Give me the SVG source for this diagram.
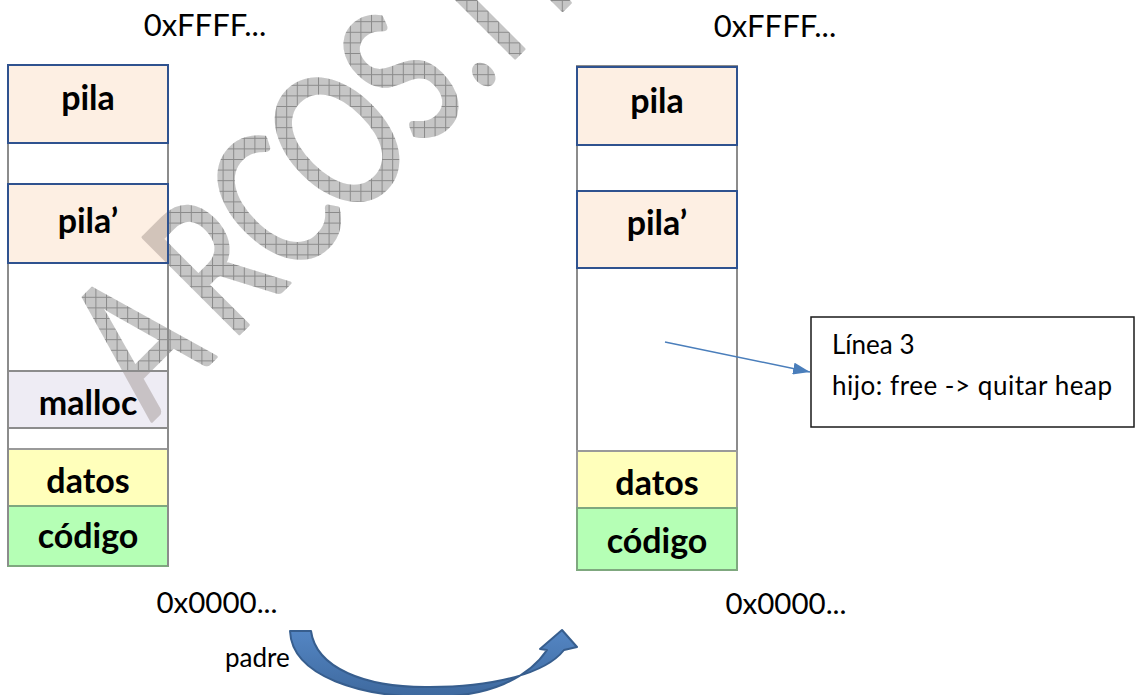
<svg xmlns="http://www.w3.org/2000/svg" width="1136" height="695" viewBox="0 0 1136 695">
  <style>
    .addr { font-family: Lato, "Liberation Sans", sans-serif; font-size: 31px; fill: #000; text-anchor: middle; }
    .seg-label { font-family: Lato, "Liberation Sans", sans-serif; font-weight: bold; font-size: 34px; fill: #000; text-anchor: middle; }
    .note { font-family: Lato, "Liberation Sans", sans-serif; font-size: 26px; fill: #000; }
    .col { fill: #fff; stroke: #8c8c8c; stroke-width: 2; }
    .stack { fill: #fdefe3; stroke: #2f528f; stroke-width: 2; }
    .heap { fill: #eeecf4; stroke: #8c8c8c; stroke-width: 2; }
    .data { fill: #ffffbb; stroke: #9a9a9a; stroke-width: 2; }
    .code { fill: #b5ffb5; stroke: #7fa87f; stroke-width: 2; }
    .callout { fill: #fff; stroke: #1a1a1a; stroke-width: 1.5; }
    .pointer { fill: none; stroke: #4a7ebb; stroke-width: 1.5; }
    .wm-text { font-family: Lato, "Liberation Sans", sans-serif; font-size: 190px; fill: #fff; stroke: #fff; stroke-width: 3; stroke-linejoin: round; text-anchor: middle; }
  </style>
  <defs>
    <pattern id="grid" width="10.6" height="10.6" patternUnits="userSpaceOnUse">
      <rect width="10.6" height="10.6" fill="#c6c6c6"/>
      <path d="M0 0.5H10.6M0.5 0V10.6" stroke="#8a8a8a" stroke-width="1"/>
    </pattern>
    <mask id="wm-mask" maskUnits="userSpaceOnUse" x="0" y="0" width="1136" height="695">
      <g transform="translate(180,393) rotate(-45) scale(0.72,1)">
        <text class="wm-text" x="8 158 278 403 528 611 667 806" y="0">ARCOS.IN</text>
      </g>
    </mask>
    <clipPath id="in-boxes">
      <rect x="8" y="184" width="160" height="79"/>
      <rect x="8" y="371" width="160" height="57"/>
    </clipPath>
    <marker id="arrow" markerWidth="18" markerHeight="12" refX="17" refY="6" orient="auto" markerUnits="userSpaceOnUse">
      <path d="M0,0 L17,6 L0,12 Z" fill="#4a7ebb"/>
    </marker>
    <linearGradient id="band" x1="0" y1="0" x2="0" y2="1">
      <stop offset="0" stop-color="#5486c4"/>
      <stop offset="1" stop-color="#3e699e"/>
    </linearGradient>
  </defs>

  <!-- background watermark -->
  <rect width="1136" height="695" fill="#fff"/>
  <rect id="watermark" width="1136" height="695" fill="url(#grid)" mask="url(#wm-mask)"/>

  <!-- parent process memory map -->
  <g id="parent-map">
    <g id="p-pila"><rect class="stack" x="8" y="65" width="160" height="78"/><text class="seg-label" x="88" y="110">pila</text></g>
    <g id="p-pila2"><rect class="stack" x="8" y="184" width="160" height="79"/><text class="seg-label" x="88" y="233">pila’</text></g>
    <g id="p-malloc"><rect class="heap" x="8" y="371" width="160" height="57"/><text class="seg-label" x="88" y="415">malloc</text></g>
    <g id="p-datos"><rect class="data" x="8" y="449" width="160" height="57"/><text class="seg-label" x="88" y="493">datos</text></g>
    <g id="p-codigo"><rect class="code" x="8" y="506" width="160" height="60"/><text class="seg-label" x="88" y="548">código</text></g>
  </g>
  <!-- watermark seen through the tinted boxes -->
  <g clip-path="url(#in-boxes)">
    <rect width="1136" height="695" fill="#7a6a62" fill-opacity="0.32" mask="url(#wm-mask)"/>
  </g>
  <!-- column edges and box outlines over the watermark -->
  <g fill="none" stroke="#8c8c8c" stroke-width="2">
    <path d="M8 143V566M168 143V566"/>
    <rect x="8" y="371" width="160" height="57"/>
  </g>
  <g fill="none" stroke="#2f528f" stroke-width="2">
    <rect x="8" y="65" width="160" height="78"/>
    <rect x="8" y="184" width="160" height="79"/>
  </g>

  <text class="addr" x="205" y="36">0xFFFF...</text>
  <text class="addr" x="217" y="613" style="font-size:29.5px">0x0000...</text>

  <!-- child process memory map -->
  <g id="child-map">
    <rect class="col" x="577" y="66" width="160" height="504"/>
    <g id="c-pila"><rect class="stack" x="577" y="67" width="160" height="78"/><text class="seg-label" x="657" y="113">pila</text></g>
    <g id="c-pila2"><rect class="stack" x="577" y="191" width="160" height="77"/><text class="seg-label" x="657" y="235">pila’</text></g>
    <g id="c-datos"><rect class="data" x="577" y="451" width="160" height="57"/><text class="seg-label" x="657" y="495">datos</text></g>
    <g id="c-codigo"><rect class="code" x="577" y="508" width="160" height="62"/><text class="seg-label" x="657" y="553">código</text></g>
  </g>

  <text class="addr" x="775" y="37">0xFFFF...</text>
  <text class="addr" x="786" y="614" style="font-size:29.5px">0x0000...</text>

  <!-- callout note -->
  <g id="note">
    <rect class="callout" x="811" y="317" width="323" height="110"/>
    <text class="note" x="832" y="354">Línea 3</text>
    <text class="note" x="832" y="395" textLength="280">hijo: free -&gt; quitar heap</text>
  </g>

  <!-- connectors -->
  <g id="connectors">
    <line class="pointer" x1="665" y1="342" x2="810" y2="372" marker-end="url(#arrow)"/>
    <path id="fork-arrow" d="M290,631 C292,677 362,697 430,697 C490,697 528,678 547,650 L540,649 L562,630 L577,647 L564,650 C546,673 495,687 430,687 C365,688 316,668 311,631 Z" fill="url(#band)" stroke="#375e8e" stroke-width="2" stroke-linejoin="round"/>
    <text class="note" x="225" y="667">padre</text>
  </g>
</svg>
